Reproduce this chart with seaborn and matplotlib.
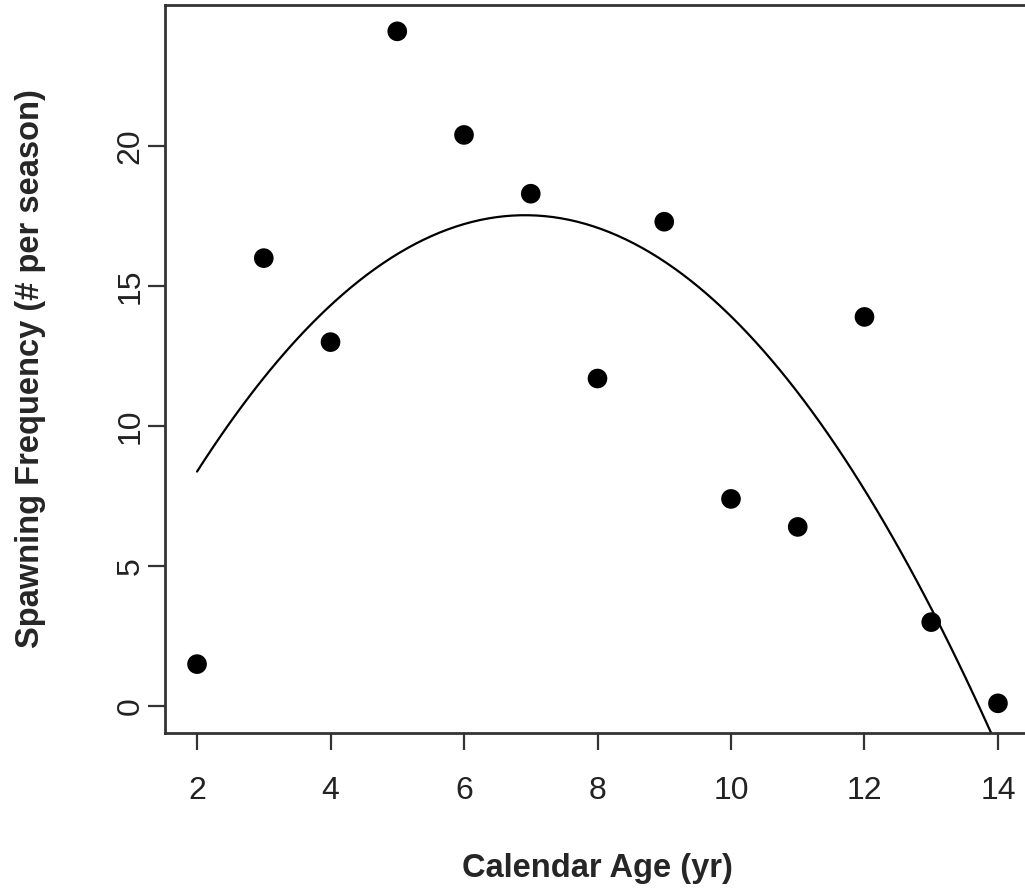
import numpy as np
import pandas as pd
import matplotlib
matplotlib.use("Agg")
import matplotlib.pyplot as plt
import seaborn as sns

# 나이별 산란 빈도
age = [2, 3, 4, 5, 6, 7, 8, 9, 10, 11, 12, 13, 14]
spawn = [1.5, 16.0, 13.0, 24.1, 20.4, 18.3, 11.7, 17.3, 7.4, 6.4, 13.9, 3.0, 0.1]
xticks = [2, 4, 6, 8, 10, 12, 14]
yticks = [0, 5, 10, 15, 20]

df = pd.DataFrame({"age": age, "spawn": spawn})

sns.set_style("white")
plt.rcParams["font.family"] = ["Liberation Sans", "DejaVu Sans"]

fig = plt.figure(figsize=(10.25, 8.93), dpi=100)
ax = fig.add_axes([165 / 1025, 160 / 893, 865 / 1025, 728 / 893])

# 2차 회귀곡선 + 점
sns.regplot(data=df, x="age", y="spawn", order=2, ci=None, ax=ax,
            scatter_kws={"s": 200, "color": "black", "alpha": 1, "edgecolor": "none"},
            line_kws={"color": "black", "lw": 1.6})

ax.set_xlim(1.52, 14.48)
ax.set_ylim(-0.96, 25.04)
ax.set_xticks(xticks)
ax.set_yticks(yticks)
ax.set_yticklabels([str(v) for v in yticks], rotation=90, va="center")

for s in ax.spines.values():
    s.set_color("#333333")
    s.set_linewidth(2)

ax.tick_params(axis="both", direction="out", length=12, width=1.6, color="#333333",
               labelsize=23, labelcolor="#222222", bottom=True, left=True)
ax.tick_params(axis="x", pad=19)
ax.tick_params(axis="y", pad=2)

ax.set_xlabel("Calendar Age (yr)", fontsize=23.5, fontweight="bold", labelpad=34)
ax.set_ylabel("Spawning Frequency (# per season)", fontsize=23.5, fontweight="bold", labelpad=50)

fig.savefig("out.png", dpi=100)
